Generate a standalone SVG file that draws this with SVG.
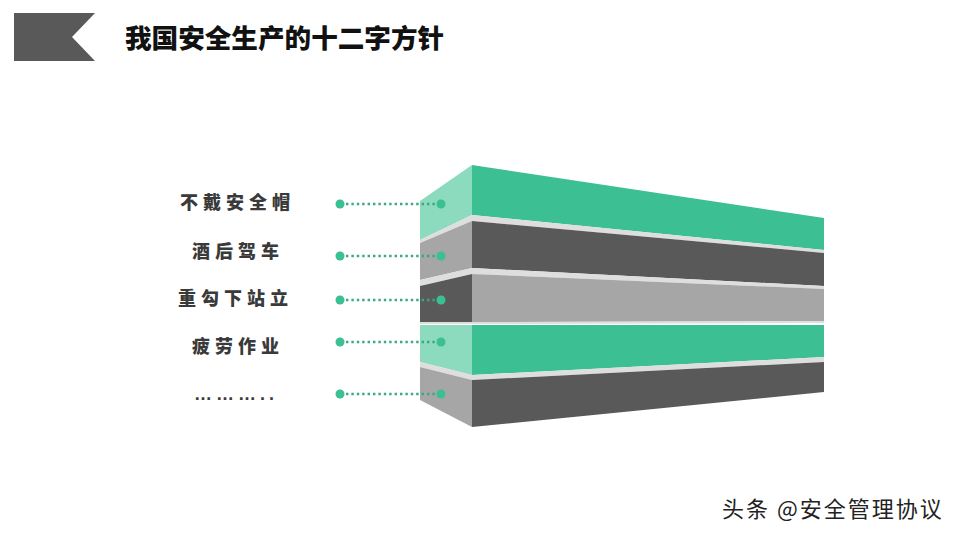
<svg xmlns="http://www.w3.org/2000/svg" width="960" height="540" viewBox="0 0 960 540">
  <style>
    .title { font-family: "Noto Sans CJK SC", "Liberation Sans", sans-serif; font-weight: 900; font-size: 26.6px; fill: #111111; }
    .label { font-family: "Noto Sans CJK SC", "Liberation Sans", sans-serif; font-weight: 900; font-size: 18px; letter-spacing: 5px; fill: #3a3a3a; }
    .dotsLabel { font-family: "Liberation Sans", "Noto Sans CJK SC", sans-serif; font-weight: 700; font-size: 18px; letter-spacing: 4px; fill: #3a3a3a; }
    .wm { font-family: "Noto Sans CJK SC", "Liberation Sans", sans-serif; font-size: 22px; letter-spacing: 2px; fill: #222222; }
    .green { fill: #3cbf92; }
    .lgreen { fill: #8ddbbe; }
    .dark { fill: #595959; }
    .lgray { fill: #a6a6a6; }
    .band { fill: #dedede; }
    .dotline { stroke: #3aa882; stroke-width: 2.6; stroke-dasharray: 2.4 3; fill: none; }
    .dot { fill: #3cbf92; }
  </style>

  <g id="header">
    <polygon points="14,13 95,13 72,37 95,61 14,61" fill="#595959"/>
    <text class="title" x="125" y="48">我国安全生产的十二字方针</text>
  </g>

  <g id="slab1">
    <polygon class="lgreen" points="420,201 472,165 472,215 420,240"/>
    <polygon class="green" points="472,165 824,218 824,250 472,215"/>
    <polygon class="band" points="420,240 472,215 824,250 824,253 472,221 420,243"/>
  </g>
  <g id="slab2">
    <polygon class="lgray" points="420,243 472,221 472,268 420,280"/>
    <polygon class="dark" points="472,221 824,253 824,286 472,268"/>
    <polygon class="band" points="420,280 472,268 824,286 824,289 472,274 420,286"/>
  </g>
  <g id="slab3">
    <polygon class="dark" points="420,286 472,274 472,322 420,322"/>
    <polygon class="lgray" points="472,274 824,289 824,321 472,322"/>
    <polygon class="band" points="420,322 472,322 824,321 824,323 472,324 420,324"/>
  </g>
  <g id="slab4">
    <polygon class="lgreen" points="420,325 472,325 472,375 420,362"/>
    <polygon class="green" points="472,325 824,325 824,357 472,375"/>
    <polygon class="band" points="420,362 472,375 824,357 824,362 472,380 420,367"/>
  </g>
  <g id="slab5">
    <polygon class="lgray" points="420,367 472,380 472,427 420,400"/>
    <polygon class="dark" points="472,380 824,362 824,392 472,427"/>
  </g>

  <g id="labels">
    <text class="label" x="180" y="209">不戴安全帽</text>
    <text class="label" x="192" y="258">酒后驾车</text>
    <text class="label" x="178" y="305">重勾下站立</text>
    <text class="label" x="192" y="353">疲劳作业</text>
    <text class="dotsLabel" x="194" y="400">………..</text>
  </g>

  <g id="connectors">
    <line class="dotline" x1="346" y1="204" x2="436" y2="204"/>
    <circle class="dot" cx="340" cy="204" r="4.5"/>
    <circle class="dot" cx="441" cy="204" r="4.5"/>
    <line class="dotline" x1="346" y1="256" x2="436" y2="256"/>
    <circle class="dot" cx="340" cy="256" r="4.5"/>
    <circle class="dot" cx="441" cy="256" r="4.5"/>
    <line class="dotline" x1="346" y1="300" x2="436" y2="300"/>
    <circle class="dot" cx="340" cy="300" r="4.5"/>
    <circle class="dot" cx="441" cy="300" r="4.5"/>
    <line class="dotline" x1="346" y1="342" x2="436" y2="342"/>
    <circle class="dot" cx="340" cy="342" r="4.5"/>
    <circle class="dot" cx="441" cy="342" r="4.5"/>
    <line class="dotline" x1="346" y1="394" x2="436" y2="394"/>
    <circle class="dot" cx="340" cy="394" r="4.5"/>
    <circle class="dot" cx="441" cy="394" r="4.5"/>
  </g>

  <g id="watermark">
    <text class="wm" x="722" y="517">头条 @安全管理协议</text>
  </g>
</svg>
